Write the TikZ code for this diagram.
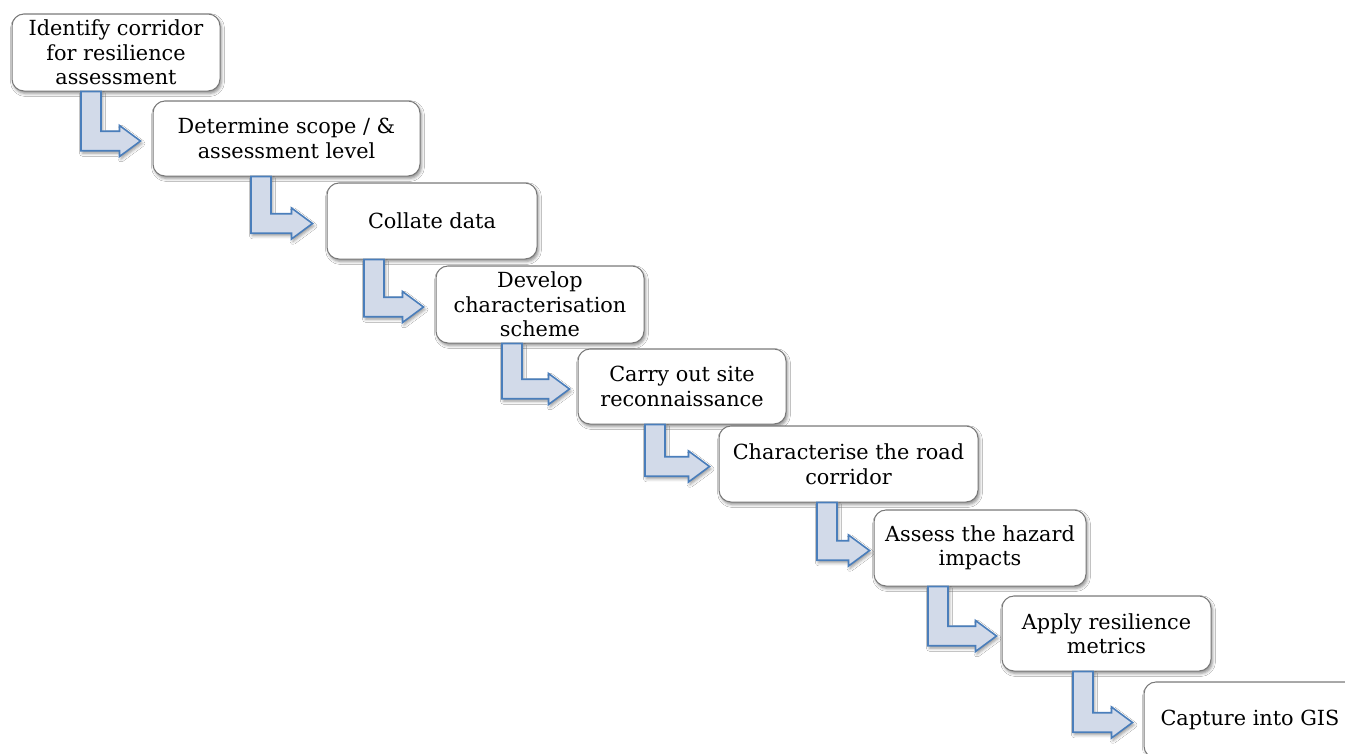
\documentclass[tikz,border=0pt]{standalone}
\usepackage{fontspec}
\setmainfont{DejaVu Serif}
\usetikzlibrary{calc,shadows.blur}
\definecolor{arrowfill}{RGB}{210,218,233}
\definecolor{arrowline}{RGB}{74,126,187}
\definecolor{boxline}{RGB}{120,120,120}
\tikzset{
  stepbox/.style={draw=boxline, line width=1pt, rounded corners=12pt, fill=white,
    align=center, inner sep=0pt, font=\fontsize{20.8}{24.5}\selectfont,
    blur shadow={shadow xshift=1.5pt, shadow yshift=-2.5pt, shadow blur radius=3pt, shadow opacity=45}},
  bentarrow/.style={draw=arrowline, fill=arrowfill, line width=1.6pt, line join=miter,
    blur shadow={shadow xshift=1.5pt, shadow yshift=-2.5pt, shadow blur radius=3pt, shadow opacity=40}}
}
% #1 from node, #2 to node, #3 shaft left x, #4 gap before target
\newcommand\flowarrow[4]{%
  \path[bentarrow] let \p1=(#1.south), \p2=(#2.west) in
    (#3pt,\y1) -- ({#3pt+20pt},\y1) -- ({#3pt+20pt},{\y2+7.25pt})
    -- ({\x2-#4pt-21pt},{\y2+7.25pt}) -- ({\x2-#4pt-21pt},{\y2+13pt})
    -- ({\x2-#4pt},{\y2-2.5pt})
    -- ({\x2-#4pt-21pt},{\y2-18pt}) -- ({\x2-#4pt-21pt},{\y2-12.25pt})
    -- (#3pt,{\y2-12.25pt}) -- cycle;}
\begin{document}
\begin{tikzpicture}[x=1pt,y=-1pt]
\useasboundingbox (0,0) rectangle (1345,753);
\clip (0,0) rectangle (1345,753);
\fill[white] (0,0) rectangle (1345,753);
\node[stepbox, minimum width=208pt, minimum height=77pt] (b1) at (116,52.5) {Identify corridor\\for resilience\\assessment};
\node[stepbox, minimum width=267pt, minimum height=75pt] (b2) at (286.5,138.5) {Determine scope / \&\\assessment level};
\node[stepbox, minimum width=210pt, minimum height=76pt] (b3) at (432,221) {Collate data};
\node[stepbox, minimum width=208pt, minimum height=77pt] (b4) at (540,304.5) {Develop\\characterisation\\scheme};
\node[stepbox, minimum width=208pt, minimum height=75pt] (b5) at (682,386.5) {Carry out site\\reconnaissance};
\node[stepbox, minimum width=259pt, minimum height=76pt] (b6) at (848.5,464) {Characterise the road\\corridor};
\node[stepbox, minimum width=212pt, minimum height=76pt] (b7) at (980,548) {Assess the hazard\\impacts};
\node[stepbox, minimum width=209pt, minimum height=75pt] (b8) at (1106.5,633.5) {Apply resilience\\metrics};
\node[stepbox, minimum width=212pt, minimum height=76pt] (b9) at (1250,720) {Capture into GIS};
\flowarrow{b1}{b2}{81}{12}
\flowarrow{b2}{b3}{251}{14}
\flowarrow{b3}{b4}{364}{12}
\flowarrow{b4}{b5}{502}{8}
\flowarrow{b5}{b6}{645}{9}
\flowarrow{b6}{b7}{817}{4}
\flowarrow{b7}{b8}{928}{5}
\flowarrow{b8}{b9}{1073}{11}
\end{tikzpicture}
\end{document}
